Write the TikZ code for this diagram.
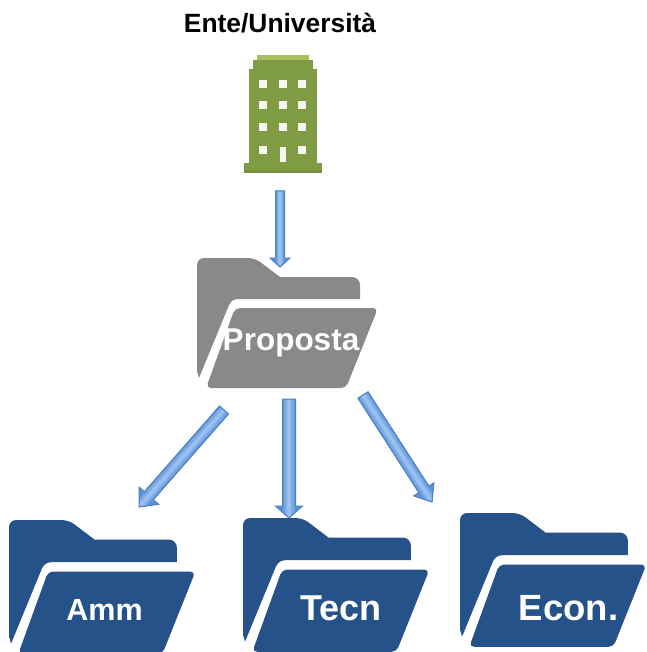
\documentclass[tikz,border=0pt]{standalone}
\usepackage{fontspec}
\setmainfont{Liberation Sans}
\usetikzlibrary{calc}
\definecolor{navy}{HTML}{255288}
\definecolor{folderGrey}{HTML}{898989}
\definecolor{bldg}{HTML}{7F9C45}
\definecolor{bldgTop}{HTML}{A6C162}
\definecolor{bldgDark}{HTML}{6F8A3A}
\definecolor{arrowEdge}{HTML}{4A7FC0}
\definecolor{arrowDark}{HTML}{5A90D8}
\definecolor{arrowLight}{HTML}{9CC2F2}
\tikzset{
  foldertext/.style={text=white,font=\bfseries,inner sep=0pt},
  window/.style={fill=white!92!bldg,draw=none},
}
% #1 x, #2 y, #3 scale, #4 colour
\newcommand{\drawfolder}[4]{%
  \begin{scope}[shift={(#1,#2)},scale=#3]
    \fill[#4] (2,120) -- (0,113) [rounded corners=7pt] -- (0,0) -- (58,0)
      [sharp corners] -- (83,19) [rounded corners=8pt] -- (163,19) [sharp corners] -- (163,41)
      -- (41,41) .. controls (37,41) and (34,43) .. (32,47) -- cycle;
    \fill[#4,rounded corners=5pt] (38,50) -- (181,50) -- (149,130) -- (9,130) -- cycle;
  \end{scope}}
% #1 from, #2 to, #3 half shaft, #4 half head, #5 head length
\newcommand{\blockarrow}[5]{%
  \coordinate (hb) at ($(#2)!#5pt!(#1)$);
  \coordinate (s1) at ($(#1)!#3pt!90:(#2)$);
  \coordinate (s2) at ($(#1)!#3pt!-90:(#2)$);
  \coordinate (n1) at ($(hb)!#3pt!-90:(#2)$);
  \coordinate (n2) at ($(hb)!#3pt!90:(#2)$);
  \coordinate (w1) at ($(hb)!#4pt!-90:(#2)$);
  \coordinate (w2) at ($(hb)!#4pt!90:(#2)$);
  \fill[black,opacity=.10,shift={(1pt,-2pt)}] (s1) -- (n2) -- (w2) -- (#2) -- (w1) -- (n1) -- (s2) -- cycle;
  \fill[arrowDark] (s1) -- (n2) -- (w2) -- (#2) -- (w1) -- (n1) -- (s2) -- cycle;
  \begin{scope}
    \clip (s1) -- (n2) -- (w2) -- (#2) -- (w1) -- (n1) -- (s2) -- cycle;
    \foreach \i in {1,...,8}{
      \pgfmathsetmacro{\wd}{2*#3*(1-(\i-1)/8)}
      \pgfmathsetmacro{\mx}{\i*12.5}
      \draw[arrowLight!\mx!arrowDark,line width=\wd pt] (#1) -- (#2);
    }
  \end{scope}
  \draw[arrowEdge,line width=1pt,line join=miter]
    (s1) -- (n2) -- (w2) -- (#2) -- (w1) -- (n1) -- (s2) -- cycle;}
\begin{document}
\begin{tikzpicture}[x=1pt,y=-1pt]
\useasboundingbox (0,0) rectangle (646,652);
\clip (0,0) rectangle (646,652);

\node[font=\bfseries\fontsize{26.4}{30}\selectfont,inner sep=0pt] (title) at (280,23) {Ente/Università};

% building
\fill[bldgTop] (257,55) rectangle (309,61);
\fill[bldg] (253,60.5) rectangle (313,69);
\fill[bldg] (249,69) rectangle (317,163);
\fill[bldg] (244,163) rectangle (322,173);
\fill[bldgDark,opacity=.5] (244,170) rectangle (322,173);
\foreach \c in {263,283,302}
  \foreach \r in {84,105,127}
    \fill[window] (\c-4,\r-4) rectangle (\c+4,\r+4);
\fill[window] (259,146) rectangle (267,154);
\fill[window] (298,146) rectangle (306,154);
\fill[window] (280,147) rectangle (286,162);
\node[inner sep=0pt,minimum width=78pt,minimum height=118pt] (building) at (283,114) {};

% folders
\drawfolder{197}{258}{1}{folderGrey}
\drawfolder{9}{520}{1.03}{navy}
\drawfolder{243}{518}{1.03}{navy}
\drawfolder{460}{513}{1.03}{navy}

\node[foldertext,font=\bfseries\fontsize{31.5}{36}\selectfont] (proposta) at (291,343) {Proposta};
\node[foldertext,font=\bfseries\fontsize{30.5}{36}\selectfont] (amm) at (104.5,610) {Amm};
\node[foldertext,font=\bfseries\fontsize{36}{40}\selectfont] (tecn) at (341,608) {Tecn};
\node[foldertext,font=\bfseries\fontsize{36.5}{40}\selectfont] (econ) at (568.5,608) {Econ.};

% connector end points
\coordinate (a0) at (280,191);  \coordinate (a1) at (280,267);
\coordinate (b0) at (224,410);  \coordinate (b1) at (139,507);
\coordinate (c0) at (289,399);  \coordinate (c1) at (289,518);
\coordinate (d0) at (363,395);  \coordinate (d1) at (432,502);

\blockarrow{a0}{a1}{4.5}{10}{9}
\blockarrow{b0}{b1}{6}{13}{15}
\blockarrow{c0}{c1}{6.5}{13.5}{12}
\blockarrow{d0}{d1}{6}{12}{15}
\end{tikzpicture}
\end{document}
